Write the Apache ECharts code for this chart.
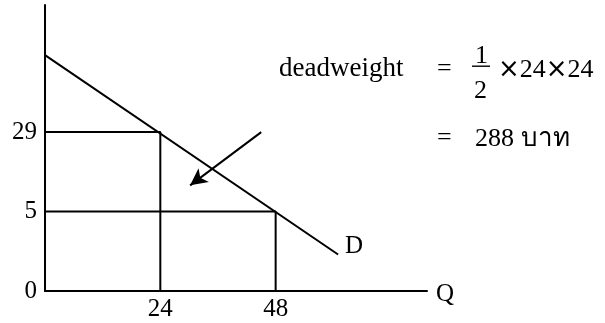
<!DOCTYPE html>
<html>
<head>
<meta charset="utf-8">
<script src="https://cdn.jsdelivr.net/npm/echarts@6/dist/echarts.min.js"></script>
<style>
html,body{margin:0;padding:0;background:#fff;}
#c{width:605px;height:323px;}
</style>
</head>
<body>
<div id="c"></div>
<script>
// ---- data (schematic diagram; price axis is drawn at equal steps per tick) ----
const qTicks = [24, 48];              // labelled quantities
const priceTicks = [0, 5, 29];        // labelled prices (one axis step each)
const eqQ = [24, 48];                 // quantity at each price line
const eqP = [29, 5];                  // price lines
const demandQ = [0, 61];              // demand line ends (quantity)
const demandLevel = [2.97, 0.46];     // demand line ends (price-axis steps)
const arrowFrom = [45, 2.0];
const arrowTo = [30.2, 1.33];

const FONT = 'Liberation Serif';
const lvl = p => priceTicks.indexOf(p);

const guideSeries = eqQ.map((q, i) => ({
  type: 'line',
  data: [[0, lvl(eqP[i])], [q, lvl(eqP[i])], [q, 0]],
  symbol: 'none',
  lineStyle: {color: '#000', width: 2},
  silent: true, animation: false
}));

function txt(text, x, y, size, extra) {
  return {type: 'text', x: x, y: y, silent: true,
    style: Object.assign({text: text, fontFamily: FONT, fontSize: size, fill: '#000',
            align: 'left', verticalAlign: 'middle'}, extra || {})};
}

const chart = echarts.init(document.getElementById('c'), null, {renderer: 'canvas'});
chart.setOption({
  animation: false,
  backgroundColor: '#fff',
  grid: {left: 45, right: 178, top: 5, bottom: 32},
  xAxis: {
    type: 'value', min: 0, max: 79.5, interval: 24,
    axisLine: {show: true, onZero: false, lineStyle: {color: '#000', width: 2}},
    axisTick: {show: false}, splitLine: {show: false},
    axisLabel: {
      margin: 6, color: '#000', fontFamily: FONT, fontSize: 25,
      showMinLabel: false, showMaxLabel: false,
      formatter: v => qTicks.includes(v) ? String(v) : ''
    }
  },
  yAxis: {
    type: 'value', min: 0, max: 3.6, interval: 1,
    axisLine: {show: true, onZero: false, lineStyle: {color: '#000', width: 2}},
    axisTick: {show: false}, splitLine: {show: false},
    axisLabel: {
      margin: 8, color: '#000', fontFamily: FONT, fontSize: 25,
      showMaxLabel: false,
      formatter: v => (Number.isInteger(v) && v < priceTicks.length) ? String(priceTicks[v]) : ''
    }
  },
  series: [
    ...guideSeries,
    {
      type: 'line',
      data: demandQ.map((q, i) => [q, demandLevel[i]]),
      symbol: 'none',
      lineStyle: {color: '#000', width: 2},
      markLine: {
        silent: true, animation: false,
        symbol: ['none', 'arrow'], symbolSize: [13, 17],
        label: {show: false},
        lineStyle: {color: '#000', width: 2, type: 'solid'},
        data: [[{coord: arrowFrom}, {coord: arrowTo}]]
      }
    }
  ],
  graphic: [
    txt('D', 345, 246, 25),
    txt('Q', 436, 294, 25),
    txt('deadweight', 279, 69, 27),
    txt('=', 437, 69, 26),
    txt('1', 475, 56, 26),
    {type: 'rect', silent: true, shape: {x: 472, y: 65.5, width: 18, height: 1.4}, style: {fill: '#000'}},
    txt('2', 474, 91, 26),
    txt('{m|×}24{m|×}24', 498, 70, 26, {
      rich: {m: {fontFamily: 'DejaVu Sans', fontSize: 26, fill: '#000'}}
    }),
    txt('=', 437, 138, 26),
    txt('288 บาท', 475, 139, 26)
  ]
});
</script>
</body>
</html>
